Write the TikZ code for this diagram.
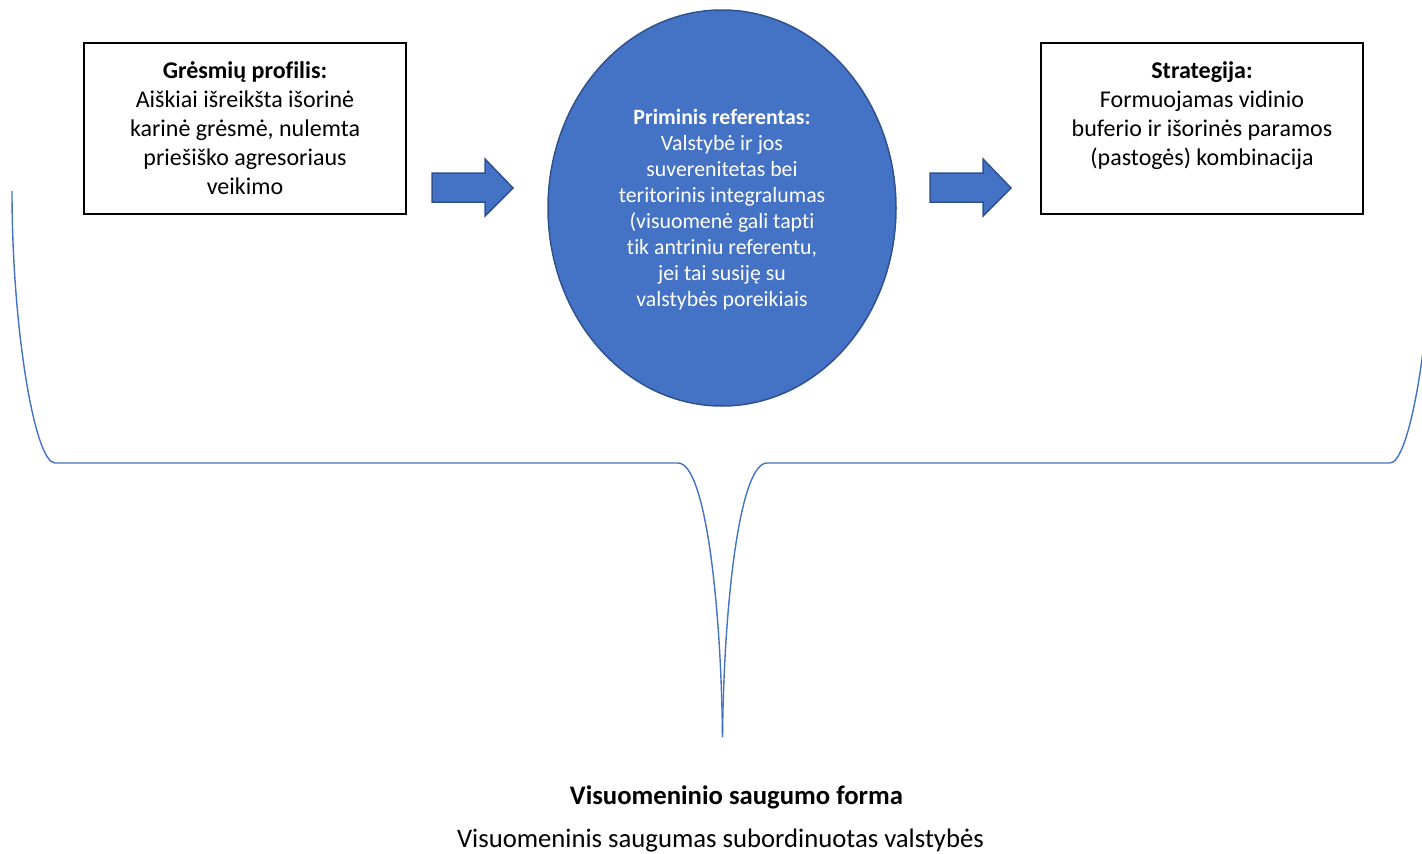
\documentclass[tikz,border=0pt]{standalone}
\usepackage{fontspec}
\setmainfont[Ligatures={NoCommon}]{Carlito}
\usetikzlibrary{shapes.geometric}
\definecolor{wblue}{HTML}{4472C4}
\definecolor{wdark}{HTML}{2F528F}
\tikzset{
  boxshape/.style={draw=black, line width=2pt, minimum width=322pt, minimum height=171pt, inner sep=0pt},
  boxtext/.style={align=center, font=\fontsize{24}{29}\selectfont, inner sep=0pt, anchor=base},
  ovaltext/.style={align=center, font=\fontsize{21.8}{26}\selectfont, text=white, inner sep=0pt, anchor=base},
  blockarrow/.style={fill=wblue, draw=wdark, line width=1.5pt, line join=miter},
  bracelinie/.style={draw=wblue, line width=1.4pt},
  bottomtext/.style={font=\fontsize{26.7}{29}\selectfont, inner sep=0pt, anchor=base}
}
\begin{document}
\begin{tikzpicture}[x=1pt, y=-1pt]
\useasboundingbox (0,0) rectangle (1422,854);
\clip (0,0) rectangle (1422,854);
% boxes
\node[boxshape] (b1) at (245,128.5) {};
\node[boxshape] (b3) at (1202,128.5) {};
\node[draw=wdark, fill=wblue, line width=1.5pt, ellipse, minimum width=348pt, minimum height=396pt, inner sep=0pt] (ov) at (722,208) {};
% texts (anchored at the baseline of the last line)
\node[boxtext] (t1) at (245,194) {\textbf{Grėsmių profilis:}\\Aiškiai išreikšta išorinė\\karinė grėsmė, nulemta\\priešiško agresoriaus\\veikimo};
\node[boxtext] (t3) at (1202,165) {\textbf{Strategija:}\\Formuojamas vidinio\\buferio ir išorinės paramos\\(pastogės) kombinacija};
\node[ovaltext] (t2) at (722,306.5) {\textbf{Priminis referentas:}\\Valstybė ir jos\\suverenitetas bei\\teritorinis integralumas\\(visuomenė gali tapti\\tik antriniu referentu,\\jei tai susiję su\\valstybės poreikiais};
% block arrows
\draw[blockarrow] (432,173) -- (485,173) -- (485,159) -- (513,188) -- (485,216) -- (485,202) -- (432,202) -- cycle;
\draw[blockarrow] (930,173) -- (983,173) -- (983,159) -- (1011,188) -- (983,216) -- (983,202) -- (930,202) -- cycle;
% brace
\coordinate (bl) at (12,191);
\coordinate (bm) at (722.5,737);
\coordinate (br) at (1433,191);
\draw[bracelinie] (bl) .. controls (12,330) and (35,463) .. (55,463) -- (678,463) .. controls (705,463) and (721,600) .. (bm);
\draw[bracelinie] (bm) .. controls (724,600) and (740,463) .. (767,463) -- (1390,463) .. controls (1410,463) and (1433,330) .. (br);
% bottom text
\node[bottomtext, font=\fontsize{26.7}{29}\selectfont\bfseries] (bt1) at (736.5,804) {Visuomeninio saugumo forma};
\node[bottomtext] (bt2) at (720.5,847) {Visuomeninis saugumas subordinuotas valstybės};
\end{tikzpicture}
\end{document}
